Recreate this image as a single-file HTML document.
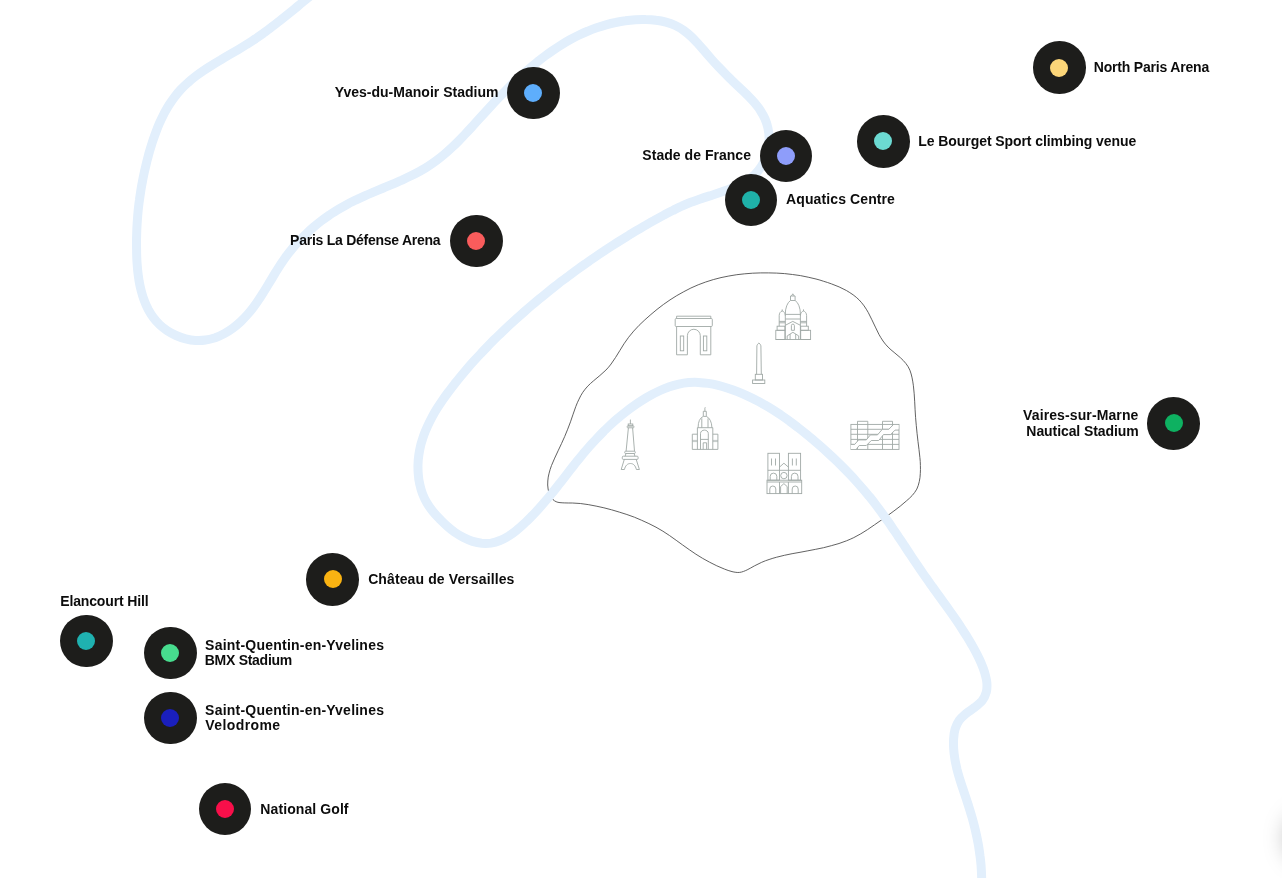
<!DOCTYPE html>
<html lang="en">
<head>
<meta charset="utf-8">
<title>Paris 2024 venues map</title>
<style>
html,body{margin:0;padding:0;background:#fff;}
body{width:1282px;height:878px;overflow:hidden;position:relative;font-family:"Liberation Sans",sans-serif;}
#map{position:absolute;left:0;top:0;width:1282px;height:878px;overflow:hidden;will-change:transform;}
#map svg{position:absolute;left:0;top:0;}
.mk{position:absolute;width:52.6px;height:52.6px;border-radius:50%;background:#1d1d1b;}
.mk i{position:absolute;left:17.3px;top:17.3px;width:18px;height:18px;border-radius:50%;display:block;}
.ln{position:absolute;white-space:nowrap;font-weight:700;font-size:14px;line-height:14px;color:#0c0c0c;}
.fab{position:absolute;left:1288px;top:814px;width:48px;height:48px;border-radius:50%;background:#fff;box-shadow:0 0 24px rgba(0,0,0,.36);}
</style>
</head>
<body>
<div id="map">
<svg width="1282" height="878" viewBox="0 0 1282 878" fill="none">
<path d="M548.1 489.0C547.6 486.4 547.6 483.6 547.8 481.0C547.9 478.4 548.4 475.8 549.1 473.2C549.7 470.6 550.6 468.1 551.5 465.5C552.5 463.0 553.6 460.5 554.7 458.1C555.8 455.6 557.0 453.2 558.1 450.8C559.2 448.4 560.4 446.0 561.5 443.6C562.6 441.2 563.6 438.9 564.7 436.5C565.7 434.1 566.7 431.7 567.7 429.2C568.7 426.8 569.6 424.3 570.5 421.8C571.4 419.3 572.2 416.7 573.1 414.2C574.0 411.6 574.8 409.0 575.8 406.5C576.8 404.0 577.8 401.5 579.0 399.2C580.1 396.8 581.4 394.4 582.8 392.3C584.3 390.1 586.0 388.1 587.8 386.1C589.6 384.2 591.6 382.5 593.7 380.7C595.7 378.9 597.9 377.3 599.9 375.5C602.0 373.7 604.0 372.0 605.9 370.1C607.8 368.2 609.5 366.1 611.1 364.0C612.7 361.9 614.2 359.7 615.6 357.4C617.1 355.2 618.4 352.9 619.8 350.6C621.2 348.3 622.6 346.0 624.0 343.8C625.5 341.6 627.0 339.4 628.6 337.3C630.2 335.2 631.9 333.1 633.7 331.1C635.4 329.2 637.2 327.2 639.1 325.3C641.0 323.5 642.9 321.6 644.9 319.8C646.8 318.0 648.8 316.2 650.9 314.5C652.9 312.7 655.0 311.0 657.0 309.4C659.1 307.7 661.3 306.1 663.4 304.5C665.6 302.9 667.8 301.4 670.0 299.9C672.3 298.4 674.5 297.0 676.8 295.6C679.1 294.2 681.4 292.9 683.8 291.7C686.1 290.4 688.5 289.2 690.9 288.0C693.3 286.9 695.8 285.8 698.2 284.8C700.7 283.8 703.2 282.9 705.7 282.0C708.2 281.2 710.7 280.4 713.3 279.6C715.9 278.9 718.4 278.2 721.0 277.6C723.6 277.0 726.3 276.5 728.9 276.0C731.5 275.5 734.1 275.1 736.8 274.7C739.4 274.4 742.1 274.1 744.8 273.8C747.4 273.6 750.1 273.4 752.7 273.2C755.4 273.0 758.1 272.9 760.7 272.9C763.4 272.8 766.1 272.8 768.7 272.9C771.4 272.9 774.0 273.0 776.7 273.1C779.3 273.2 782.0 273.4 784.6 273.6C787.2 273.9 789.9 274.1 792.5 274.5C795.1 274.8 797.8 275.2 800.4 275.6C803.0 276.1 805.6 276.6 808.2 277.2C810.8 277.7 813.4 278.3 816.0 279.0C818.6 279.7 821.2 280.4 823.7 281.3C826.3 282.1 828.9 282.9 831.5 283.9C834.0 284.8 836.6 285.8 839.1 286.9C841.6 288.0 844.0 289.2 846.4 290.5C848.7 291.9 851.0 293.3 853.1 294.8C855.3 296.4 857.3 298.1 859.1 299.9C860.9 301.8 862.6 303.8 864.1 305.9C865.6 308.0 867.0 310.3 868.3 312.6C869.6 315.0 870.7 317.4 871.9 319.8C873.1 322.2 874.2 324.7 875.4 327.1C876.5 329.5 877.7 332.0 878.9 334.3C880.2 336.6 881.5 338.9 883.0 341.0C884.6 343.2 886.2 345.2 888.1 347.1C889.9 349.0 892.0 350.7 894.1 352.4C896.1 354.2 898.4 355.9 900.4 357.7C902.3 359.5 904.3 361.4 905.9 363.5C907.5 365.5 908.9 367.8 909.9 370.2C910.9 372.6 911.5 375.3 912.1 377.9C912.7 380.5 913.0 383.2 913.4 385.8C913.7 388.5 914.0 391.2 914.2 393.8C914.4 396.5 914.6 399.1 914.7 401.8C914.9 404.5 915.0 407.1 915.1 409.8C915.3 412.4 915.4 415.1 915.6 417.7C915.8 420.4 916.0 423.1 916.3 425.7C916.5 428.4 916.8 431.0 917.1 433.7C917.4 436.3 917.7 439.0 918.0 441.6C918.3 444.3 918.7 446.9 919.0 449.6C919.3 452.2 919.7 454.9 919.9 457.6C920.2 460.2 920.4 462.9 920.4 465.5C920.5 468.2 920.5 470.9 920.3 473.5C920.2 476.2 919.9 478.9 919.3 481.5C918.7 484.1 918.0 486.7 916.8 489.1C915.6 491.4 913.9 493.5 912.2 495.5C910.4 497.5 908.3 499.3 906.3 501.0C904.3 502.8 902.2 504.5 900.2 506.2C898.1 507.8 896.0 509.4 893.9 511.0C891.8 512.6 889.6 514.2 887.5 515.7C885.3 517.2 883.2 518.8 881.0 520.3C878.8 521.8 876.6 523.4 874.4 524.9C872.2 526.5 869.9 528.0 867.7 529.5C865.4 531.0 863.1 532.4 860.8 533.8C858.5 535.1 856.1 536.4 853.8 537.6C851.4 538.8 848.9 539.8 846.5 540.8C844.0 541.8 841.5 542.7 839.0 543.5C836.5 544.3 833.9 545.0 831.3 545.7C828.8 546.4 826.2 547.1 823.6 547.7C821.0 548.2 818.4 548.8 815.7 549.3C813.1 549.8 810.5 550.3 807.9 550.8C805.2 551.3 802.6 551.8 800.0 552.3C797.4 552.7 794.7 553.2 792.1 553.7C789.5 554.2 786.9 554.8 784.4 555.3C781.8 555.9 779.2 556.5 776.7 557.2C774.2 557.9 771.6 558.6 769.1 559.5C766.6 560.3 764.1 561.2 761.7 562.3C759.2 563.4 756.8 564.6 754.4 565.9C751.9 567.2 749.5 568.8 747.1 569.9C744.7 571.0 742.2 572.1 739.7 572.4C737.2 572.7 734.6 572.2 732.0 571.6C729.4 571.1 726.8 569.9 724.3 569.0C721.8 568.0 719.3 566.9 716.8 565.8C714.4 564.6 712.0 563.4 709.6 562.2C707.3 561.0 705.0 559.7 702.7 558.4C700.4 557.0 698.2 555.6 695.9 554.2C693.7 552.7 691.5 551.2 689.3 549.7C687.1 548.2 684.9 546.6 682.7 545.0C680.6 543.5 678.4 541.8 676.2 540.3C674.0 538.7 671.9 537.1 669.6 535.6C667.4 534.1 665.2 532.6 662.9 531.2C660.6 529.8 658.3 528.5 656.0 527.2C653.7 525.9 651.3 524.7 648.9 523.6C646.6 522.4 644.1 521.3 641.7 520.3C639.3 519.2 636.8 518.2 634.4 517.2C631.9 516.3 629.4 515.4 626.9 514.5C624.4 513.7 621.8 512.8 619.3 512.1C616.7 511.3 614.2 510.6 611.6 509.8C609.1 509.1 606.5 508.5 603.9 507.8C601.3 507.2 598.7 506.6 596.1 506.1C593.5 505.5 590.9 505.0 588.2 504.6C585.6 504.2 582.9 503.8 580.3 503.5C577.6 503.3 575.0 503.1 572.3 503.0C569.6 502.9 566.9 503.1 564.2 502.9C561.5 502.7 558.4 502.8 556.1 501.7C553.9 500.7 551.9 498.8 550.6 496.7C549.2 494.6 548.6 491.6 548.1 489.0Z" stroke="#505050" stroke-width="0.9"/>
<path d="M318.3 -10.6C317.0 -9.5 313.0 -6.3 310.4 -4.1C307.7 -2.0 305.1 0.2 302.5 2.3C299.9 4.4 297.4 6.6 294.8 8.7C292.2 10.8 289.6 12.9 287.0 15.0C284.4 17.1 281.9 19.1 279.2 21.2C276.6 23.2 274.0 25.3 271.4 27.2C268.8 29.2 266.1 31.2 263.4 33.2C260.7 35.1 258.0 37.0 255.3 38.9C252.5 40.7 249.7 42.6 246.9 44.3C244.1 46.1 241.2 47.9 238.3 49.6C235.4 51.3 232.4 53.0 229.5 54.7C226.6 56.4 223.7 58.1 220.8 59.9C217.9 61.6 215.0 63.3 212.1 65.1C209.3 66.9 206.4 68.7 203.7 70.5C200.9 72.4 198.2 74.3 195.6 76.3C193.0 78.3 190.4 80.4 188.0 82.6C185.5 84.7 183.2 87.0 180.9 89.4C178.7 91.8 176.6 94.3 174.6 96.9C172.6 99.5 170.8 102.2 169.0 105.0C167.2 107.8 165.6 110.7 164.0 113.7C162.5 116.7 161.0 119.7 159.6 122.8C158.3 125.9 157.0 129.1 155.8 132.3C154.6 135.5 153.5 138.8 152.4 142.0C151.4 145.3 150.4 148.5 149.4 151.8C148.5 155.1 147.7 158.4 146.8 161.6C146.0 164.9 145.3 168.1 144.5 171.4C143.8 174.6 143.1 177.8 142.5 181.1C141.9 184.3 141.3 187.5 140.8 190.7C140.3 193.9 139.8 197.1 139.4 200.4C138.9 203.6 138.6 206.8 138.2 210.1C137.9 213.3 137.6 216.6 137.4 219.9C137.1 223.2 137.0 226.4 136.8 229.8C136.7 233.1 136.6 236.5 136.5 239.8C136.5 243.2 136.5 246.6 136.6 250.1C136.6 253.5 136.7 257.0 136.9 260.5C137.1 263.9 137.4 267.4 137.7 270.9C138.1 274.3 138.6 277.8 139.1 281.1C139.7 284.5 140.4 287.8 141.3 291.1C142.1 294.3 143.1 297.5 144.3 300.6C145.4 303.6 146.7 306.6 148.2 309.4C149.8 312.2 151.4 315.0 153.3 317.5C155.2 320.1 157.3 322.5 159.7 324.7C162.0 326.9 164.6 328.9 167.3 330.7C170.1 332.5 173.1 334.2 176.1 335.5C179.2 336.9 182.4 338.0 185.7 338.8C188.9 339.6 192.3 340.2 195.6 340.4C198.9 340.6 202.3 340.5 205.5 340.0C208.8 339.6 212.0 338.7 215.2 337.7C218.3 336.6 221.4 335.2 224.3 333.6C227.3 332.0 230.2 330.1 232.9 328.1C235.6 326.1 238.2 323.9 240.7 321.6C243.1 319.3 245.4 316.9 247.6 314.4C249.8 311.9 251.9 309.3 253.9 306.6C255.9 303.9 257.8 301.2 259.6 298.4C261.5 295.6 263.2 292.7 265.0 289.9C266.8 287.0 268.5 284.1 270.2 281.3C272.0 278.4 273.7 275.5 275.4 272.6C277.2 269.8 279.0 266.9 280.8 264.1C282.7 261.4 284.6 258.6 286.5 255.9C288.5 253.3 290.6 250.7 292.7 248.1C294.8 245.6 297.0 243.1 299.3 240.7C301.6 238.3 303.9 235.9 306.3 233.7C308.7 231.4 311.1 229.2 313.7 227.0C316.2 224.9 318.8 222.8 321.4 220.8C324.1 218.8 326.8 216.9 329.5 215.0C332.3 213.2 335.1 211.4 337.9 209.7C340.8 207.9 343.7 206.3 346.6 204.7C349.6 203.1 352.6 201.6 355.6 200.1C358.6 198.7 361.7 197.3 364.8 195.9C367.8 194.5 371.0 193.2 374.1 191.9C377.2 190.6 380.3 189.3 383.4 188.0C386.5 186.7 389.7 185.4 392.7 184.1C395.8 182.8 398.9 181.4 402.0 180.1C405.0 178.7 408.0 177.3 411.0 175.8C414.0 174.3 416.9 172.8 419.8 171.2C422.6 169.6 425.5 168.0 428.2 166.2C431.0 164.4 433.6 162.6 436.3 160.6C438.9 158.7 441.4 156.7 443.9 154.6C446.4 152.5 448.9 150.3 451.3 148.0C453.7 145.8 456.1 143.5 458.4 141.2C460.7 138.8 463.0 136.4 465.3 134.0C467.6 131.6 469.9 129.1 472.2 126.6C474.4 124.2 476.7 121.7 479.0 119.1C481.2 116.6 483.5 114.1 485.8 111.6C488.1 109.1 490.4 106.6 492.7 104.1C495.0 101.6 497.4 99.2 499.7 96.7C502.1 94.2 504.5 91.8 506.9 89.4C509.3 87.0 511.8 84.6 514.2 82.3C516.7 79.9 519.2 77.6 521.7 75.3C524.2 73.0 526.7 70.8 529.3 68.6C531.8 66.4 534.4 64.2 537.0 62.2C539.7 60.1 542.3 58.0 545.0 56.0C547.7 54.0 550.4 52.1 553.1 50.2C555.8 48.4 558.6 46.5 561.4 44.8C564.2 43.1 567.0 41.4 569.9 39.8C572.8 38.2 575.7 36.7 578.6 35.3C581.5 33.9 584.5 32.5 587.5 31.3C590.5 30.0 593.5 28.8 596.6 27.7C599.7 26.7 602.8 25.7 606.0 24.8C609.1 23.9 612.3 23.1 615.6 22.5C618.8 21.8 622.1 21.2 625.4 20.8C628.7 20.3 632.1 20.0 635.5 19.8C638.9 19.6 642.3 19.5 645.7 19.6C649.2 19.6 652.6 19.8 656.0 20.3C659.4 20.7 662.7 21.3 665.9 22.2C669.1 23.1 672.3 24.1 675.3 25.5C678.3 26.9 681.1 28.6 683.8 30.5C686.5 32.4 689.0 34.6 691.5 36.9C693.9 39.2 696.2 41.8 698.5 44.3C700.8 46.8 703.0 49.4 705.3 52.0C707.5 54.6 709.7 57.1 711.9 59.6C714.1 62.1 716.3 64.5 718.6 66.9C720.9 69.3 723.1 71.6 725.4 73.9C727.7 76.3 730.0 78.5 732.4 80.9C734.8 83.2 737.2 85.4 739.7 87.8C742.1 90.1 744.6 92.4 747.0 94.8C749.4 97.3 751.9 99.7 754.0 102.2C756.2 104.8 758.4 107.4 760.2 110.2C762.0 113.0 763.7 115.9 765.0 118.9C766.3 121.9 767.3 125.1 768.0 128.4C768.7 131.6 769.1 134.9 769.1 138.3C769.2 141.6 768.9 145.0 768.3 148.3C767.7 151.6 766.8 154.9 765.5 158.0C764.3 161.1 762.8 164.1 761.0 166.9C759.2 169.6 757.0 172.3 754.7 174.6C752.4 176.9 749.7 179.0 746.9 180.8C744.1 182.6 741.1 184.1 738.0 185.6C735.0 187.0 731.8 188.2 728.7 189.4C725.5 190.6 722.4 191.7 719.2 192.8C716.0 193.9 712.8 194.9 709.7 195.9C706.5 196.9 703.3 197.9 700.2 199.0C697.1 200.1 693.9 201.1 690.8 202.3C687.8 203.5 684.7 204.8 681.7 206.2C678.6 207.5 675.7 209.0 672.7 210.5C669.7 211.9 666.8 213.5 663.8 215.1C660.9 216.7 658.0 218.3 655.1 219.9C652.1 221.5 649.2 223.2 646.3 224.9C643.4 226.5 640.6 228.2 637.7 229.9C634.8 231.6 631.9 233.4 629.1 235.1C626.2 236.9 623.4 238.6 620.6 240.4C617.7 242.2 614.9 244.0 612.1 245.8C609.3 247.6 606.5 249.4 603.7 251.3C600.9 253.1 598.1 255.0 595.4 256.9C592.6 258.8 589.8 260.7 587.1 262.6C584.4 264.5 581.6 266.4 578.9 268.4C576.2 270.3 573.5 272.3 570.8 274.3C568.1 276.3 565.4 278.3 562.8 280.3C560.1 282.3 557.5 284.4 554.9 286.4C552.2 288.5 549.6 290.6 547.0 292.7C544.4 294.8 541.8 296.9 539.2 299.0C536.7 301.1 534.1 303.3 531.6 305.4C529.0 307.6 526.5 309.8 524.0 312.0C521.5 314.2 519.0 316.4 516.5 318.6C514.1 320.8 511.6 323.1 509.2 325.3C506.8 327.6 504.3 329.9 501.9 332.2C499.5 334.5 497.2 336.8 494.8 339.1C492.4 341.5 490.1 343.9 487.8 346.2C485.4 348.6 483.1 351.0 480.9 353.5C478.6 355.9 476.3 358.4 474.1 360.8C471.8 363.3 469.6 365.8 467.4 368.4C465.3 370.9 463.1 373.5 460.9 376.1C458.8 378.7 456.7 381.3 454.6 383.9C452.5 386.6 450.4 389.3 448.4 392.0C446.4 394.7 444.4 397.4 442.5 400.2C440.6 403.0 438.7 405.8 436.9 408.7C435.2 411.5 433.5 414.4 431.9 417.3C430.3 420.3 428.8 423.2 427.5 426.2C426.1 429.3 424.8 432.3 423.7 435.4C422.6 438.5 421.7 441.6 420.8 444.8C420.0 448.0 419.4 451.2 418.9 454.5C418.4 457.7 418.1 461.1 418.0 464.4C417.9 467.7 418.0 471.1 418.3 474.5C418.5 477.8 419.0 481.2 419.8 484.4C420.5 487.7 421.4 490.9 422.6 494.0C423.8 497.1 425.2 500.1 426.9 502.9C428.6 505.8 430.5 508.5 432.6 511.1C434.7 513.7 437.0 516.2 439.4 518.7C441.8 521.1 444.2 523.6 446.8 525.9C449.4 528.2 452.1 530.4 454.9 532.4C457.7 534.3 460.6 536.1 463.5 537.6C466.5 539.1 469.5 540.4 472.6 541.4C475.6 542.3 478.7 543.0 481.8 543.3C484.9 543.5 488.0 543.5 491.0 543.1C494.1 542.6 497.1 541.7 500.0 540.5C503.0 539.4 505.9 537.7 508.7 536.0C511.5 534.2 514.3 532.1 517.0 529.9C519.7 527.8 522.3 525.4 524.8 523.0C527.4 520.7 529.8 518.2 532.2 515.8C534.6 513.3 536.9 510.9 539.2 508.3C541.4 505.8 543.6 503.3 545.8 500.7C547.9 498.2 550.1 495.6 552.2 493.0C554.2 490.4 556.3 487.8 558.3 485.2C560.4 482.6 562.4 480.0 564.4 477.4C566.5 474.7 568.5 472.1 570.5 469.5C572.6 466.9 574.6 464.3 576.7 461.7C578.8 459.1 580.9 456.6 583.0 454.0C585.2 451.4 587.3 448.9 589.5 446.4C591.8 443.9 594.0 441.4 596.3 439.0C598.6 436.5 600.9 434.1 603.3 431.7C605.7 429.4 608.1 427.0 610.5 424.8C613.0 422.5 615.5 420.2 618.1 418.1C620.6 415.9 623.2 413.8 625.9 411.7C628.5 409.6 631.2 407.6 634.0 405.7C636.7 403.8 639.5 401.9 642.4 400.1C645.2 398.3 648.1 396.6 651.1 395.0C654.1 393.4 657.1 391.9 660.1 390.5C663.2 389.1 666.3 387.9 669.4 386.8C672.5 385.7 675.7 384.8 678.9 384.1C682.1 383.4 685.4 382.9 688.6 382.6C691.9 382.3 695.2 382.3 698.4 382.4C701.7 382.6 705.1 382.9 708.3 383.4C711.6 383.9 714.9 384.6 718.2 385.4C721.5 386.2 724.7 387.2 727.9 388.2C731.2 389.3 734.3 390.4 737.5 391.7C740.6 392.9 743.7 394.2 746.7 395.6C749.8 397.0 752.8 398.4 755.7 400.0C758.7 401.5 761.6 403.1 764.5 404.8C767.4 406.4 770.2 408.1 773.1 409.9C775.9 411.7 778.7 413.5 781.4 415.4C784.2 417.3 786.9 419.2 789.6 421.2C792.3 423.1 795.0 425.2 797.6 427.2C800.2 429.2 802.9 431.3 805.5 433.4C808.1 435.5 810.6 437.7 813.2 439.8C815.7 442.0 818.3 444.2 820.8 446.4C823.3 448.6 825.8 450.9 828.2 453.1C830.7 455.4 833.2 457.7 835.6 460.0C838.0 462.3 840.4 464.7 842.7 467.0C845.1 469.4 847.4 471.8 849.7 474.2C852.0 476.6 854.3 479.1 856.5 481.6C858.7 484.0 860.9 486.5 863.1 489.1C865.3 491.6 867.4 494.2 869.5 496.7C871.6 499.3 873.7 501.9 875.7 504.6C877.7 507.2 879.7 509.9 881.7 512.6C883.6 515.3 885.5 518.0 887.5 520.7C889.4 523.4 891.3 526.2 893.1 528.9C895.0 531.7 896.9 534.4 898.7 537.2C900.6 540.0 902.4 542.8 904.3 545.5C906.1 548.3 907.9 551.1 909.8 553.9C911.6 556.7 913.5 559.5 915.4 562.3C917.2 565.0 919.1 567.8 921.0 570.6C922.9 573.3 924.8 576.1 926.8 578.8C928.7 581.6 930.7 584.3 932.6 587.0C934.6 589.7 936.5 592.5 938.5 595.2C940.5 597.9 942.4 600.6 944.4 603.4C946.4 606.1 948.3 608.8 950.2 611.5C952.2 614.3 954.1 617.0 956.0 619.8C957.8 622.5 959.7 625.3 961.5 628.1C963.3 630.9 965.1 633.7 966.9 636.5C968.6 639.4 970.3 642.2 972.0 645.1C973.6 648.0 975.2 650.8 976.7 653.8C978.2 656.8 979.7 659.7 981.0 662.8C982.3 665.9 983.6 669.1 984.6 672.4C985.5 675.6 986.5 679.1 986.8 682.3C987.1 685.6 987.1 689.1 986.3 692.1C985.5 695.2 984.0 698.2 982.1 700.7C980.1 703.2 977.3 705.3 974.6 707.4C972.0 709.5 968.8 711.3 966.2 713.4C963.7 715.6 961.1 717.7 959.2 720.3C957.3 722.9 956.0 726.0 955.1 729.1C954.2 732.2 953.8 735.7 953.6 739.1C953.4 742.5 953.5 746.0 953.7 749.3C953.9 752.7 954.4 756.0 954.9 759.2C955.4 762.5 956.2 765.7 956.9 769.0C957.7 772.2 958.7 775.4 959.6 778.6C960.6 781.8 961.6 785.0 962.7 788.2C963.7 791.4 964.8 794.6 965.9 797.7C966.9 800.9 968.0 804.1 969.0 807.3C970.0 810.5 971.0 813.7 971.9 816.9C972.8 820.1 973.7 823.3 974.5 826.6C975.3 829.8 976.0 833.0 976.7 836.3C977.4 839.5 978.0 842.8 978.6 846.0C979.1 849.3 979.6 852.6 980.0 855.9C980.5 859.2 980.8 862.5 981.1 865.9C981.3 869.2 981.5 872.6 981.6 875.9C981.7 879.3 981.7 884.4 981.7 886.1" stroke="#e2effc" stroke-width="9" stroke-linecap="round" stroke-linejoin="round"/>
<g id="monuments" stroke="#a0a9a6" stroke-width="0.9" fill="none" stroke-linejoin="miter" stroke-linecap="butt">
<!-- Arc de Triomphe -->
<g>
<path d="M676.6 318.5V316.2H710.8V318.5"/>
<rect x="675.2" y="318.5" width="37.1" height="8" rx="1"/>
<path d="M676.6 326.5V354.8H687.4V335.7A6.45 6.45 0 0 1 700.3 335.7V354.8H710.8V326.5"/>
<rect x="680.3" y="336" width="3.4" height="14.8"/>
<rect x="703.4" y="336" width="3.4" height="14.8"/>
</g>
<!-- Sacre-Coeur -->
<g>
<path d="M775.8 339.5H810.6"/>
<rect x="775.8" y="330.3" width="9.1" height="9.2"/>
<rect x="800.7" y="330.3" width="9.9" height="9.2"/>
<rect x="777.1" y="326.2" width="7.8" height="4.1"/>
<rect x="800.7" y="326.2" width="7.6" height="4.1"/>
<path d="M779.2 326.2V315.6C779.2 313 780.6 311.4 782.2 311C783.8 311.4 785.3 313 785.3 315.6M782.2 311V309.4"/>
<path d="M779.2 321.4H785.3M779.2 322.8H785.3"/>
<path d="M806.6 326.2V315.6C806.6 313 805 311.4 803.5 311C802 311.4 800.4 313 800.4 315.6M803.5 311V309.4"/>
<path d="M800.4 321.4H806.6M800.4 322.8H806.6"/>
<path d="M785.3 339.5V314.4H800.4V339.5"/>
<path d="M785.3 319H800.4"/>
<path d="M785.3 314.4A7.55 14.2 0 0 1 790.5 300.5H795.1A7.55 14.2 0 0 1 800.4 314.4"/>
<path d="M790.5 300.4V296H795.1V300.4M791.4 296L792.8 293.8L794.2 296"/>
<path d="M785.3 325.3L792.8 321.4L800.4 325.3"/>
<path d="M791.4 330.3V325.6A1.5 1.5 0 0 1 794.4 325.6V330.3Z"/>
<path d="M787.2 339.5V335.9L792.9 332.3L798.7 335.9V339.5M790.1 339.5V334.1M795.7 339.5V334.1"/>
</g>
<!-- Obelisk -->
<g>
<path d="M756.6 374.3L756.9 345.8Q757.2 344.2 758.9 343Q760.6 344.2 760.9 345.8L761.3 374.3"/>
<rect x="755.3" y="374.3" width="7.2" height="5.7"/>
<rect x="752.6" y="380" width="12.2" height="3.5"/>
</g>
<!-- Eiffel Tower -->
<g>
<path d="M630.4 419.6V424"/>
<rect x="628.2" y="424" width="4.6" height="1.9"/>
<rect x="627.2" y="425.9" width="6.7" height="1.9" rx=".6"/>
<path d="M628.4 427.8L626.1 451.2M632.6 427.8L634.5 451.2"/>
<rect x="624.7" y="451.2" width="10.6" height="2.3" rx="1"/>
<path d="M625.9 453.5L625.2 456.2M634.2 453.5L634.9 456.2"/>
<rect x="622.3" y="456.2" width="15.8" height="3.2" rx="1"/>
<path d="M624.3 459.4L621.2 469.5H624.4C625.4 465.6 627.4 463.5 630.4 463.5C633.4 463.5 635.4 465.6 636.4 469.5H639.4L636.2 459.4"/>
</g>
<!-- Invalides -->
<g>
<path d="M697.4 434.2H692.3V449.4H717.9V434.2H712.8"/>
<path d="M697.4 449.4V427.7H712.8V449.4"/>
<path d="M698.1 427.7A6.95 11.7 0 0 1 703.3 416.4H706.3A6.95 11.7 0 0 1 711.9 427.7"/>
<path d="M701.8 427.7V418.4M708 427.7V418.4"/>
<path d="M703.3 416.3V411.3H706.3V416.3"/>
<path d="M704.9 411.3V408.2Q705.6 407.6 704.8 407.2"/>
<path d="M692.3 440.4H697.4M712.8 440.4H717.9M692.3 441.6H697.4M712.8 441.6H717.9" stroke-opacity=".7"/>
<path d="M700.5 449.4V433.4C700.5 431.4 702.4 430.1 704.4 430.1C706.4 430.1 708.3 431.4 708.3 433.4V449.4"/>
<path d="M700.5 439.4H708.3"/>
<path d="M703.2 449.4V442.8H706.6V449.4"/>
</g>
<!-- Notre-Dame -->
<g>
<rect x="767.9" y="453.3" width="11.6" height="26.9"/>
<rect x="788.4" y="453.3" width="12.2" height="26.9"/>
<path d="M771.5 458.5V465.5M775.5 458.5V465.5M792.4 458.5V465.5M796.3 458.5V465.5"/>
<path d="M767.9 470.3H800.6"/>
<path d="M779.5 467.1L783.9 463.2L788.4 467.1"/>
<circle cx="783.9" cy="475.6" r="3.2"/>
<path d="M770.2 480.2V476.4A3.3 3.3 0 0 1 776.8 476.4V480.2M791.4 480.2V476.4A3.3 3.3 0 0 1 798 476.4V480.2"/>
<rect x="767" y="480.2" width="34.7" height="13.4"/>
<path d="M767 482H801.7"/>
<path d="M769.8 493.6V489A3 3 0 0 1 775.8 489V493.6M792.2 493.6V489A3 3 0 0 1 798.2 489V493.6"/>
<path d="M780.6 493.6V486.6L783.9 483.6L787.2 486.6V493.6"/>
<path d="M779.5 482V493.6M788.4 482V493.6"/>
</g>
<!-- Centre Pompidou -->
<g>
<rect x="850.9" y="424.4" width="48.1" height="25"/>
<path d="M850.9 429.3H899M850.9 434.3H899M850.9 439.4H899M850.9 444.4H899"/>
<path d="M857.5 449.4V421.3H867.8V449.4M882.5 449.4V421.3H892.5V449.4"/>
<path fill="#fff" stroke="none" d="M850.8 444.4H854.7L858.6 439.9H866.3L870.4 434.9H877.5L882.3 429.3H888.8L893.5 424.9H898.5V430.1H895L890.6 434.6H883.5L878.7 440.5H871.3L866.3 445.5H859.2L856.2 448.9H850.8Z"/>
<path d="M850.9 444.4H854.7L858.6 439.9H866.3L870.4 434.9H877.5L882.3 429.3H888.8L893.5 424.4"/>
<path d="M856.2 449.4L859.2 445.5H866.3L871.3 440.5H878.7L883.5 434.6H890.6L895 430.1H899"/>
</g>
</g>

</svg>
<div class="mk" style="left:507.1px;top:66.6px"><i style="background:#5eaefc"></i><span class="ln" style="left:-172.26px;top:18.40px;letter-spacing:0.012px">Yves-du-Manoir Stadium</span></div>
<div class="mk" style="left:1033.0px;top:41.3px"><i style="background:#fcd679"></i><span class="ln" style="left:60.76px;top:18.70px;letter-spacing:-0.192px">North Paris Arena</span></div>
<div class="mk" style="left:857.1px;top:115.0px"><i style="background:#6cdad2"></i><span class="ln" style="left:61.26px;top:19.00px;letter-spacing:-0.077px">Le Bourget Sport climbing venue</span></div>
<div class="mk" style="left:759.6px;top:129.7px"><i style="background:#8e9dfa"></i><span class="ln" style="left:-117.28px;top:18.30px;letter-spacing:0.035px">Stade de France</span></div>
<div class="mk" style="left:724.6px;top:173.7px"><i style="background:#1fb1a8"></i><span class="ln" style="left:61.45px;top:18.30px;letter-spacing:0.108px">Aquatics Centre</span></div>
<div class="mk" style="left:450.2px;top:214.8px"><i style="background:#f95c5c"></i><span class="ln" style="left:-160.08px;top:18.20px;letter-spacing:-0.258px">Paris La Défense Arena</span></div>
<div class="mk" style="left:1147.3px;top:397.1px"><i style="background:#0eb161"></i><span class="ln" style="left:-124.25px;top:10.90px;letter-spacing:0.115px">Vaires-sur-Marne</span><span class="ln" style="left:-120.94px;top:26.90px;letter-spacing:-0.082px">Nautical Stadium</span></div>
<div class="mk" style="left:306.4px;top:553.1px"><i style="background:#fab312"></i><span class="ln" style="left:61.75px;top:18.90px;letter-spacing:0.112px">Château de Versailles</span></div>
<div class="mk" style="left:60.1px;top:614.5px"><i style="background:#1fb1b0"></i><span class="ln" style="left:0.08px;top:-20.50px;letter-spacing:-0.134px">Elancourt Hill</span></div>
<div class="mk" style="left:144.1px;top:626.8px"><i style="background:#47dc8e"></i><span class="ln" style="left:61.00px;top:11.20px;letter-spacing:0.224px">Saint-Quentin-en-Yvelines</span><span class="ln" style="left:60.60px;top:26.20px;letter-spacing:-0.265px">BMX Stadium</span></div>
<div class="mk" style="left:144.2px;top:691.7px"><i style="background:#1a1fbd"></i><span class="ln" style="left:60.90px;top:11.30px;letter-spacing:0.224px">Saint-Quentin-en-Yvelines</span><span class="ln" style="left:61.18px;top:26.30px;letter-spacing:0.387px">Velodrome</span></div>
<div class="mk" style="left:198.6px;top:782.8px"><i style="background:#f80f4a"></i><span class="ln" style="left:61.76px;top:19.20px;letter-spacing:0.090px">National Golf</span></div>
<div class="fab"></div>
</div>
</body>
</html>
